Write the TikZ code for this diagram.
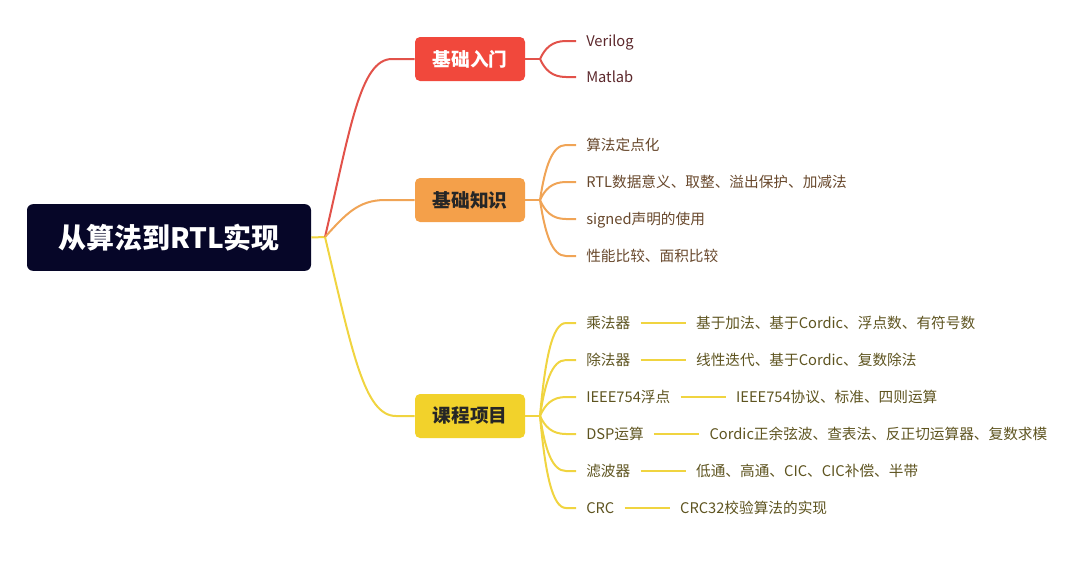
\documentclass[tikz,border=0pt]{standalone}
\usepackage{fontspec}
\setmainfont{Noto Sans CJK SC}
\usepackage{xcolor}
\definecolor{myroot}{RGB}{6, 6, 40}
\definecolor{myr}   {RGB}{241, 72, 60}
\definecolor{myo}   {RGB}{244, 160, 74}
\definecolor{myy}   {RGB}{242, 210, 43}
\definecolor{myrl}  {RGB}{226, 82, 74}
\definecolor{myol}  {RGB}{240, 164, 86}
\definecolor{myyl}  {RGB}{240, 212, 64}
\definecolor{myrt}  {RGB}{92, 40, 44}
\definecolor{myot}  {RGB}{104, 72, 44}
\definecolor{myyt}  {RGB}{94, 84, 32}
\usetikzlibrary{positioning}

\begin{document}
\begin{tikzpicture}[x=0.75pt, y=-0.75pt,
        rootbox/.style={fill=myroot, rounded corners=4.5pt, minimum width=213pt, minimum height=50pt, text=white, font=\fontsize{21}{24}\selectfont\bfseries},
        brbox/.style={rounded corners=3.75pt, minimum width=82.5pt, minimum height=33pt, font=\fontsize{14}{16}\selectfont\bfseries},
        leaf/.style={inner xsep=7.5pt, inner ysep=2pt, text height=9.5pt, text depth=1.5pt, font=\fontsize{11}{13}\selectfont},
        link/.style={line width=1.5pt}]
        \useasboundingbox (0,0) rectangle (1080,586);

        % root and main branches
        \node[rootbox] (root) at (169,237.5) {从算法到RTL实现};
        \node[brbox, fill=myr, text=white]   (b1) at (470,59)  {基础入门};
        \node[brbox, fill=myo, text=black!85] (b2) at (470,200) {基础知识};
        \node[brbox, fill=myy, text=black!85] (b3) at (470,416) {课程项目};

        \coordinate (fork) at (325,237);
        \draw[link, myyl] (root.east) -- (fork);
        \draw[link, myrl] (fork) .. controls (350,130) and (360,59) .. (392,59) -- (b1.west);
        \draw[link, myol] (fork) .. controls (345,215) and (358,200) .. (385,200) -- (b2.west);
        \draw[link, myyl] (fork) .. controls (352,350) and (364,416) .. (396,416) -- (b3.west);

        % 基础入门
        \coordinate (f1) at (540,59);
        \draw[link, myrl] (b1.east) -- (f1);
        \foreach \i/\y/\txt in {1/41/Verilog, 2/77/Matlab}
        {
            \node[leaf, text=myrt, anchor=west] (a\i) at (576,\y) {\txt};
            \draw[link, myrl] (f1) .. controls +(5,{0.6*(\y-59)}) and (552,\y) .. (566,\y) -- (a\i.west);
        }

        % 基础知识
        \coordinate (f2) at (540,200);
        \draw[link, myol] (b2.east) -- (f2);
        \foreach \i/\y/\txt in {1/145/算法定点化, 2/182/{RTL数据意义、取整、溢出保护、加减法}, 3/219/signed声明的使用, 4/256/{性能比较、面积比较}}
        {
            \node[leaf, text=myot, anchor=west] (k\i) at (576,\y) {\txt};
            \draw[link, myol] (f2) .. controls +(5,{0.6*(\y-200)}) and (552,\y) .. (566,\y) -- (k\i.west);
        }

        % 课程项目
        \coordinate (f3) at (540,416);
        \draw[link, myyl] (b3.east) -- (f3);
        \foreach \i/\y/\txt/\sub in {1/323/乘法器/{基于加法、基于Cordic、浮点数、有符号数},
                                     2/360/除法器/{线性迭代、基于Cordic、复数除法},
                                     3/397/IEEE754浮点/{IEEE754协议、标准、四则运算},
                                     4/434/DSP运算/{Cordic正余弦波、查表法、反正切运算器、复数求模},
                                     5/471/滤波器/{低通、高通、CIC、CIC补偿、半带},
                                     6/508/CRC/{CRC32校验算法的实现}}
        {
            \node[leaf, text=myyt, anchor=west] (c\i) at (576,\y) {\txt};
            \node[leaf, text=myyt, right=34pt of c\i] (g\i) {\sub};
            \draw[link, myyl] (f3) .. controls +(5,{0.6*(\y-416)}) and (552,\y) .. (566,\y) -- (c\i.west);
            \draw[link, myyl] (c\i.east) -- (g\i.west);
        }
    \end{tikzpicture}
\end{document}
